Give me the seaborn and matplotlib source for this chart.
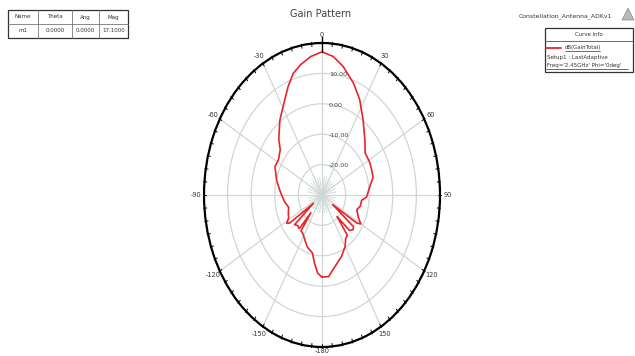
import numpy as np
import pandas as pd
import matplotlib
matplotlib.use("Agg")
import matplotlib.pyplot as plt
import seaborn as sns
from matplotlib.patches import Rectangle, Polygon
from matplotlib.lines import Line2D

# ---- pattern cut: theta (deg) and total gain (dB) ----
theta_deg = [-180, -176, -172, -168, -160, -154, -147, -143, -141, -139,
             -134, -130, -127, -124, -122, -118, -113, -106, -98, -92,
             -86, -76, -65, -58, -50, -45, -36, -28, -22, -17,
             -12, -6, 0, 6, 12, 20, 27, 35, 45, 53,
             62, 69, 75, 82, 92, 96, 103, 108, 116, 120,
             122, 125, 128, 131, 135, 138, 141, 145, 150, 158,
             167, 174, 180]
gain_db = [-3.0, -4.2, -7.3, -10.5, -11.8, -13.5, -15.0, -15.2, -22.5, -15.3,
           -15.6, -14.8, -25.5, -13.5, -12.4, -14.0, -14.5, -15.3, -14.0, -13.2,
           -12.2, -10.2, -8.0, -8.2, -6.9, -4.1, 0.4, 4.3, 8.4, 11.8,
           13.8, 15.8, 17.1, 15.8, 13.2, 9.1, 5.2, 0.3, -4.3, -7.1,
           -7.1, -7.4, -7.6, -9.5, -11.1, -13.1, -13.4, -14.5, -12.8, -11.0,
           -12.5, -24.5, -13.0, -12.6, -13.5, -20.5, -13.0, -12.5, -10.4, -8.1,
           -5.8, -3.0, -3.0]

ring_levels = [-20, -10, 0, 10]
ring_labels = ["-20.00", "-10.00", "0.00", "10.00"]
angle_ticks = [0, 30, 60, 90, 120, 150, 180, 210, 240, 270, 300, 330]
angle_labels = ["0", "30", "60", "90", "120", "150", "-180", "-150", "-120", "-90", "-60", "-30"]

marker_name = "m1"
marker_theta = 0.0
marker_ang = 0.0
marker_mag = 17.1

design_name = "Constellation_Antenna_ADKv1"
curve_expr = "dB(GainTotal)"
curve_setup = "Setup1 : LastAdaptive"
curve_vars = "Freq='2.45GHz' Phi='0deg'"

R_MIN, R_MAX = -30, 20
W, H = 635, 356

sns.set_theme(style="white")
plt.rcParams["font.family"] = ["DejaVu Sans"]

fig = plt.figure(figsize=(W / 100, H / 100), dpi=100)
fig.patch.set_facecolor("white")

def fx(px):
    return px / W

def fy(py):
    return 1 - py / H

# elliptical polar axes
ax = fig.add_axes([fx(204), fy(347), 236 / W, 304 / H], projection="polar")
ax.set_aspect("auto")
ax.set_theta_zero_location("N")
ax.set_theta_direction(-1)
ax.set_rlim(R_MIN, R_MAX)
ax.set_facecolor("white")

grid_col = "#cfd6d6"
ax.set_rgrids(ring_levels, labels=[""] * len(ring_levels))
ax.set_xticks(np.radians(angle_ticks))
ax.set_xticklabels([""] * len(angle_ticks))
ax.grid(True, color=grid_col, linewidth=0.9)
ax.tick_params(axis="x", length=0)
ax.spines["polar"].set_color("black")
ax.spines["polar"].set_linewidth(1.6)

# small tick marks around the outer ring
for a in np.arange(0, 360, 5):
    ax.plot([np.radians(a)] * 2, [R_MAX - 1.0, R_MAX + 0.4], color="black",
            lw=0.7, clip_on=False, zorder=5)

# angle labels just outside the ring
for a, lab in zip(angle_ticks, angle_labels):
    t = np.radians(a)
    off = 4 if a == 180 else 8
    ax.annotate(lab, xy=(t, R_MAX), xytext=(off * np.sin(t), off * np.cos(t)),
                textcoords="offset pixels", fontsize=4.8, color="#333333",
                ha="center", va="center", annotation_clip=False)

# fine spokes around the origin
for a in np.arange(0, 360, 10):
    ax.plot([np.radians(a)] * 2, [R_MIN, -24], color=grid_col, lw=0.6, zorder=1)

# ring value labels along the 0 deg direction
for lvl, lab in zip(ring_levels, ring_labels):
    ax.annotate(lab, xy=(0, lvl), xytext=(5, -1), textcoords="offset points",
                fontsize=4.6, color="#444444", ha="left", va="center")

# gain curve
df = pd.DataFrame({"theta": np.radians(theta_deg), "gain": gain_db})
sns.lineplot(data=df, x="theta", y="gain", ax=ax, sort=False, estimator=None,
             color="#e8242c", linewidth=1.2, zorder=3)
ax.set_xlabel("")
ax.set_ylabel("")

# marker m1 on the peak
ax.plot([np.radians(marker_ang)] * 2, [marker_mag, R_MAX + 2.0], color="black",
        lw=1.0, clip_on=False, zorder=4)
ax.plot([np.radians(marker_ang)], [R_MAX], marker="_", color="black",
        markersize=5, mew=1.2, clip_on=False, zorder=4)

# title
fig.text(fx(321), fy(14), "Gain Pattern", ha="center", va="center",
         fontsize=7, color="#404040")

# ---- marker table (top left) ----
def box(x0, y0, x1, y1, **kw):
    fig.add_artist(Rectangle((fx(x0), fy(y1)), fx(x1) - fx(x0), fy(y0) - fy(y1),
                             transform=fig.transFigure, **kw))

def hline(x0, x1, y, **kw):
    fig.add_artist(Line2D([fx(x0), fx(x1)], [fy(y), fy(y)],
                          transform=fig.transFigure, **kw))

def vline(x, y0, y1, **kw):
    fig.add_artist(Line2D([fx(x), fx(x)], [fy(y0), fy(y1)],
                          transform=fig.transFigure, **kw))

box(8, 10, 128, 38, facecolor="white", edgecolor="#333333", linewidth=0.9)
hline(8, 128, 24, color="#777777", lw=0.6)
col_edges = [8, 38, 72, 99, 128]
for xc in col_edges[1:-1]:
    vline(xc, 10, 38, color="#777777", lw=0.6)
header = ["Name", "Theta", "Ang", "Mag"]
row = [marker_name, f"{marker_theta:.4f}", f"{marker_ang:.4f}", f"{marker_mag:.4f}"]
for i in range(4):
    xc = (col_edges[i] + col_edges[i + 1]) / 2
    fig.text(fx(xc), fy(17), header[i], ha="center", va="center",
             fontsize=4.0, color="#333333")
    fig.text(fx(xc), fy(31), row[i], ha="center", va="center",
             fontsize=4.0, color="#333333")

# ---- curve info (top right) ----
fig.text(fx(565), fy(16), design_name, ha="center", va="center",
         fontsize=4.4, color="#333333")
fig.add_artist(Polygon([[fx(622), fy(20)], [fx(628), fy(8)], [fx(634), fy(20)]],
                       closed=True, transform=fig.transFigure,
                       facecolor="#b9b9b9", edgecolor="#888888", lw=0.5))
box(545, 28, 633, 72, facecolor="white", edgecolor="#333333", linewidth=0.9)
hline(545, 633, 41, color="#555555", lw=0.6)
fig.text(fx(589), fy(34.5), "Curve Info", ha="center", va="center",
         fontsize=3.9, color="#333333")
hline(546, 561, 48, color="#e8242c", lw=1.3)
fig.text(fx(565), fy(48), curve_expr, ha="left", va="center",
         fontsize=3.9, color="#333333")
hline(565, 600, 51, color="#333333", lw=0.5)
fig.text(fx(547), fy(57), curve_setup, ha="left", va="center",
         fontsize=4.0, color="#333333")
fig.text(fx(547), fy(66), curve_vars, ha="left", va="center",
         fontsize=4.0, color="#333333")
hline(546, 628, 69, color="#333333", lw=0.5)

fig.savefig("out.png", dpi=100, facecolor="white")
